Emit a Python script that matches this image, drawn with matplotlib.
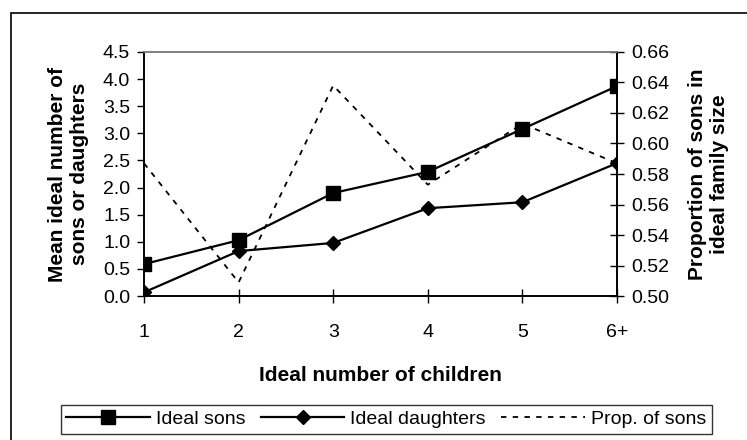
import matplotlib.pyplot as plt
from matplotlib.patches import Rectangle

plt.rcParams['font.family'] = ['Liberation Sans', 'DejaVu Sans']

# data
categories = ["1", "2", "3", "4", "5", "6+"]
ideal_sons = [0.59, 1.03, 1.90, 2.29, 3.08, 3.87]
ideal_daughters = [0.07, 0.83, 0.98, 1.62, 1.73, 2.45]
prop_sons = [0.587, 0.509, 0.638, 0.573, 0.613, 0.587]

left_ticks = [i * 0.5 for i in range(10)]
right_ticks = [0.50 + i * 0.02 for i in range(9)]

fig = plt.figure(figsize=(7.47, 4.40), dpi=100)
ax = fig.add_axes([0.1928, 0.327, 0.826 - 0.1928, 0.882 - 0.327])
ax2 = ax.twinx()

x = list(range(len(categories)))
ax.plot(x, ideal_sons, color='black', lw=1.6, marker='s', ms=9.5, label='Ideal sons', zorder=3)
ax.plot(x, ideal_daughters, color='black', lw=1.6, marker='D', ms=7.5, label='Ideal daughters', zorder=3)
ax2.plot(x, prop_sons, color='black', lw=1.3, ls=(0, (3, 3.5)), label='Prop. of sons')

ax.set_xlim(0, len(categories) - 1)
ax.set_ylim(0, 4.5)
ax2.set_ylim(0.50, 0.66)
ax.set_xticks(x)
ax.set_xticklabels(categories)
ax.set_yticks(left_ticks)
ax.set_yticklabels(["%.1f" % v for v in left_ticks])
ax2.set_yticks(right_ticks)
ax2.set_yticklabels(["%.2f" % v for v in right_ticks])

for a in (ax, ax2):
    for s in a.spines.values():
        s.set_color('black')
        s.set_linewidth(1.2)
    a.spines['top'].set_color('#808080')
ax.tick_params(axis='y', direction='out', length=5, width=1, labelsize=14, pad=5)
ax.tick_params(axis='x', direction='inout', length=10, width=1, labelsize=14, pad=15)
ax2.tick_params(axis='y', direction='inout', length=10, width=1, labelsize=14, pad=5)

ax.set_xlabel("Ideal number of children", fontsize=15, fontweight='bold', labelpad=18)
ax.set_ylabel("Mean ideal number of\nsons or daughters", fontsize=15, fontweight='bold', labelpad=10)
ax2.set_ylabel("Proportion of sons in\nideal family size", fontsize=15, fontweight='bold', labelpad=14)

handles = ax.get_lines() + ax2.get_lines()
leg = fig.legend(handles, [h.get_label() for h in handles], loc='center',
                 bbox_to_anchor=(0.517, 0.0466), ncol=3, fontsize=14, frameon=True,
                 fancybox=False, edgecolor='black', handlelength=4.3,
                 columnspacing=0.8, handletextpad=0.3, borderpad=0.3,
                 borderaxespad=0)
leg.get_frame().set_linewidth(1.0)

fig.patches.append(Rectangle((11 / 747, -0.2), 1.2, 1.0 - 13 / 440 + 0.2,
                             transform=fig.transFigure, fill=False,
                             edgecolor='black', lw=1.2, figure=fig))

fig.savefig('out.png', dpi=100)
